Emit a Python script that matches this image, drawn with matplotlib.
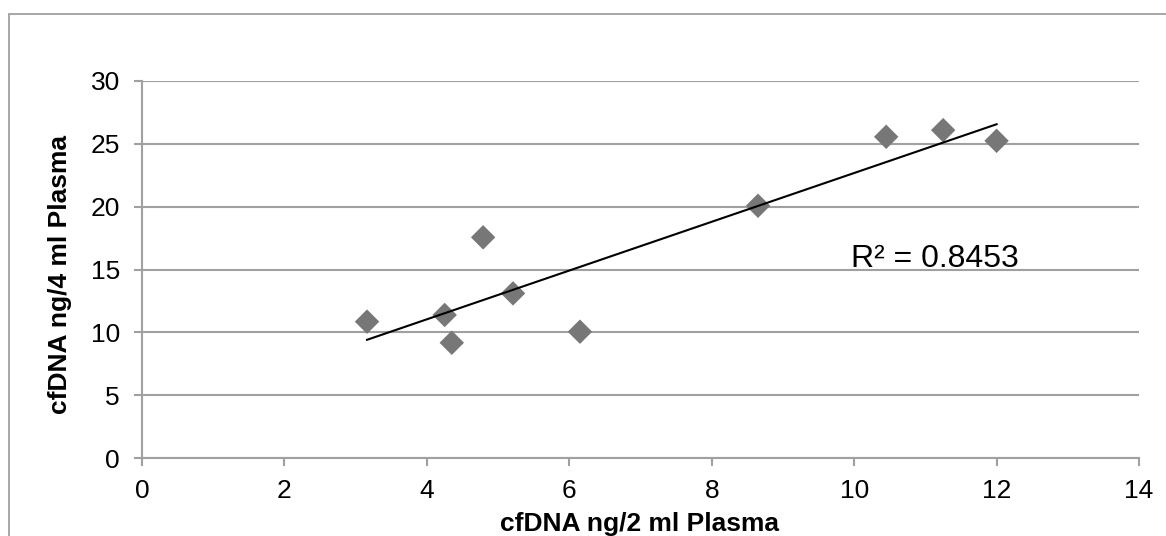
import matplotlib
matplotlib.use('Agg')
import matplotlib.pyplot as plt
import numpy as np
from matplotlib.patches import Rectangle

# values
x_vals = [3.16, 4.25, 4.35, 4.79, 5.21, 6.15, 8.65, 10.45, 11.25, 12.0]
y_vals = [10.85, 11.38, 9.17, 17.56, 13.10, 10.05, 20.07, 25.56, 26.09, 25.24]
r2_label = 'R² = 0.8453'
x_ticks = [0, 2, 4, 6, 8, 10, 12, 14]
y_ticks = [0, 5, 10, 15, 20, 25, 30]

plt.rcParams['font.family'] = ['Liberation Sans', 'DejaVu Sans']

fig = plt.figure(figsize=(11.66, 5.36), dpi=100)
W, H = 1166, 536

# outer chart border (open on right and bottom like the reference)
fig.patches.append(Rectangle((9 / W, -0.1), 1.2, (H - 14) / H + 0.1,
                             transform=fig.transFigure, fill=False,
                             edgecolor='#a0a0a0', lw=1.3))

ax = fig.add_axes([142 / W, (H - 458) / H, (1139 - 142) / W, (458 - 81) / H])

ax.scatter(x_vals, y_vals, marker='D', s=155, color='#777777', zorder=3,
           edgecolors='none')

coef = np.polyfit(x_vals, y_vals, 1)
xs = np.array([min(x_vals), max(x_vals)])
ax.plot(xs, np.polyval(coef, xs), color='black', lw=1.5, zorder=4)

ax.text(9.96, 15.19, r2_label, fontsize=23, ha='left', va='baseline')

ax.set_xlim(0, 14)
ax.set_ylim(0, 30)
ax.set_xticks(x_ticks)
ax.set_yticks(y_ticks)
ax.yaxis.grid(True, color='#a0a0a0', lw=1.5)
ax.set_axisbelow(True)
for s in ['top', 'right']:
    ax.spines[s].set_visible(False)
for s in ['left', 'bottom']:
    ax.spines[s].set_color('#a0a0a0')
    ax.spines[s].set_linewidth(1.5)
ax.tick_params(axis='both', colors='#a0a0a0', labelcolor='black',
               labelsize=19, width=1.5, length=6, direction='out')
ax.tick_params(axis='x', pad=9)
ax.tick_params(axis='y', pad=10)

fig.text(640 / W, (H - 531) / H, 'cfDNA ng/2 ml Plasma', fontsize=19,
         fontweight='bold', ha='center', va='baseline')
fig.text(60 / W, 1 - 275 / H, 'cfDNA ng/4 ml Plasma', fontsize=19,
         fontweight='bold', ha='center', va='center', rotation=90)

fig.savefig('out.png', dpi=100, facecolor='white')
